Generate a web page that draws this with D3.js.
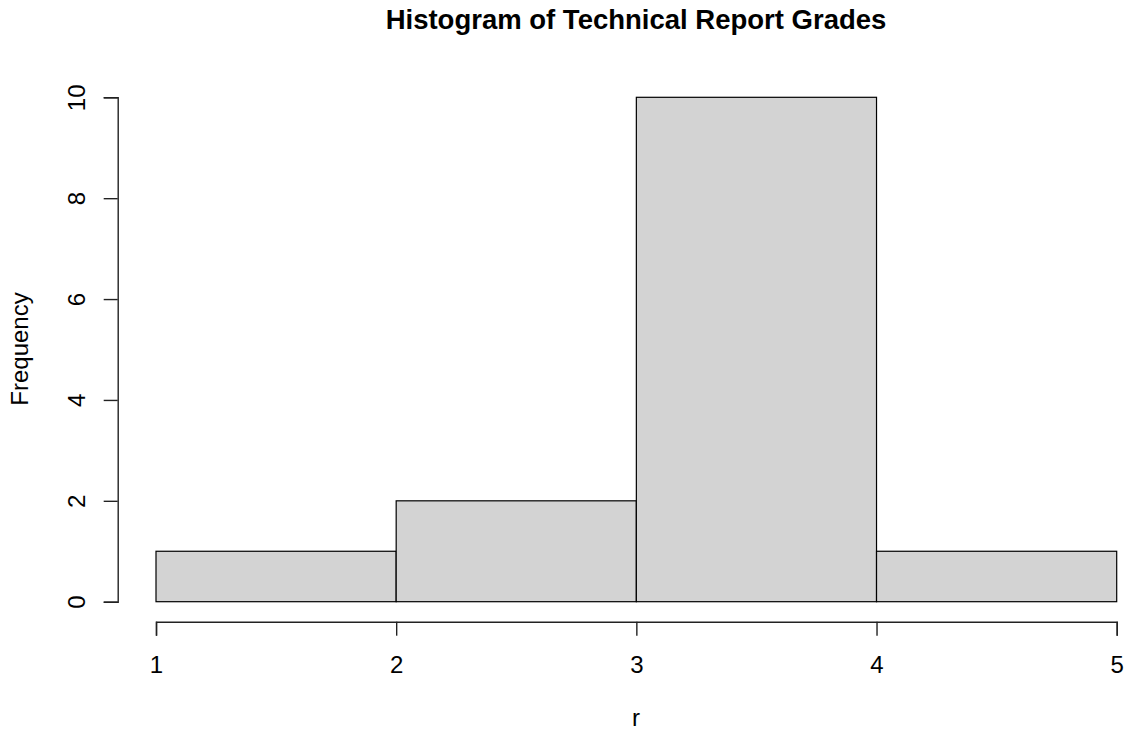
<!DOCTYPE html>
<html>
<head>
<meta charset="utf-8">
<script src="https://cdn.jsdelivr.net/npm/d3@7"></script>
<style>
  body { margin: 0; background: #fff; }
  text { font-family: "Liberation Sans", Arial, sans-serif; fill: #000; }
</style>
</head>
<body>
<div id="chart"></div>
<script>
// histogram bins (left edge, right edge) and counts
var binStarts = [1, 2, 3, 4];
var binEnds = [2, 3, 4, 5];
var counts = [1, 2, 10, 1];
var xTicks = [1, 2, 3, 4, 5];
var yTicks = [0, 2, 4, 6, 8, 10];

var width = 1132, height = 733;

var svg = d3.select("#chart")
    .append("svg")
    .attr("width", width)
    .attr("height", height);

var x = d3.scaleLinear().domain([1, 5]).range([156, 1116.7]);
var y = d3.scaleLinear().domain([0, 10]).range([601.7, 97.3]);

var bins = binStarts.map(function(d, i) {
    return {x0: d, x1: binEnds[i], n: counts[i]};
});

// bars
svg.append("g")
    .selectAll("rect")
    .data(bins)
    .enter().append("rect")
    .attr("x", function(d) { return x(d.x0); })
    .attr("y", function(d) { return y(d.n); })
    .attr("width", function(d) { return x(d.x1) - x(d.x0); })
    .attr("height", function(d) { return y(0) - y(d.n); })
    .attr("fill", "#d3d3d3")
    .attr("stroke", "#000")
    .attr("stroke-width", 1.2);

// x axis
var xAxis = svg.append("g")
    .attr("transform", "translate(0,621.7)")
    .call(d3.axisBottom(x).tickValues(xTicks).tickSize(14).tickFormat(d3.format("d")));
xAxis.selectAll("text")
    .attr("y", 51)
    .attr("dy", null)
    .style("font-size", "24px");

// y axis
var yAxis = svg.append("g")
    .attr("transform", "translate(117.7,0)")
    .call(d3.axisLeft(y).tickValues(yTicks).tickSize(14).tickFormat(d3.format("d")));
yAxis.selectAll("text")
    .attr("x", 0)
    .attr("dy", null)
    .attr("y", -33)
    .attr("transform", "rotate(-90)")
    .attr("text-anchor", "middle")
    .style("font-size", "24px");

svg.selectAll(".domain, .tick line")
    .attr("stroke", "#222")
    .attr("stroke-width", 1.4);

// titles
svg.append("text")
    .attr("x", 636).attr("y", 29)
    .attr("text-anchor", "middle")
    .style("font-size", "27.5px")
    .style("font-weight", "bold")
    .text("Histogram of Technical Report Grades");

svg.append("text")
    .attr("x", 636).attr("y", 726)
    .attr("text-anchor", "middle")
    .style("font-size", "24px")
    .text("r");

svg.append("text")
    .attr("transform", "translate(28,349) rotate(-90)")
    .attr("text-anchor", "middle")
    .style("font-size", "24px")
    .text("Frequency");
</script>
</body>
</html>
